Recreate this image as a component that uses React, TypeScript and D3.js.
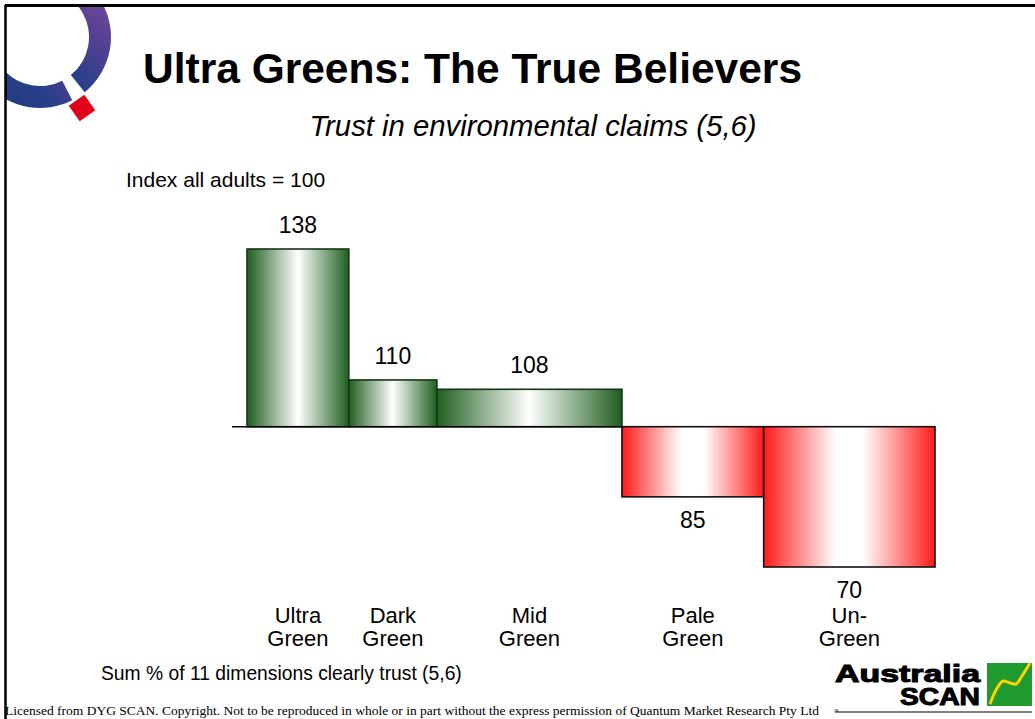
import React from "react";
import * as d3 from "d3";

// ---- data ----
const categories = ["Ultra Green", "Dark Green", "Mid Green", "Pale Green", "Un-Green"];
const labelLines = [["Ultra", "Green"], ["Dark", "Green"], ["Mid", "Green"], ["Pale", "Green"], ["Un-", "Green"]];
const indexValues = [138, 110, 108, 85, 70];
const populationShares = [14.8, 12.8, 26.9, 20.6, 24.9];
const baselineIndex = 100;

const title = "Ultra Greens: The True Believers";
const subtitle = "Trust in environmental claims (5,6)";
const indexNote = "Index all adults = 100";
const sumNote = "Sum % of 11 dimensions clearly trust (5,6)";
const footer =
  "Licensed from DYG SCAN. Copyright. Not to be reproduced in whole or in part without the express permission of Quantum Market Research Pty Ltd";

const W = 1035;
const H = 719;
const SANS = "'Liberation Sans', Arial, Helvetica, sans-serif";

export default function App() {
  const cum = d3.cumsum(populationShares);
  const total = cum[cum.length - 1];
  const x = d3.scaleLinear().domain([0, total]).range([247, 935]);
  const y = d3.scaleLinear().domain([70, 138]).range([567, 249]);
  const y0 = y(baselineIndex);

  const bars = categories.map((c, i) => {
    const start = i === 0 ? 0 : cum[i - 1];
    const end = cum[i];
    const v = indexValues[i];
    return {
      c,
      i,
      v,
      x0: x(start),
      x1: x(end),
      top: Math.min(y(v), y0),
      bottom: Math.max(y(v), y0),
      pos: v >= baselineIndex,
    };
  });

  const ringArc = d3.arc<any>().innerRadius(49).outerRadius(71);
  const deg = Math.PI / 180;
  const segA = ringArc({ startAngle: -100 * deg, endAngle: 141 * deg }) as string;
  const segB = ringArc({ startAngle: 153 * deg, endAngle: 300 * deg }) as string;

  const curve = d3.line().curve(d3.curveCatmullRom)([
    [990, 704],
    [996, 690],
    [1003, 681],
    [1010, 683],
    [1016, 684],
    [1022, 676],
    [1030, 663],
  ] as [number, number][]) as string;

  return (
    <svg
      width={W}
      height={H}
      viewBox={`0 0 ${W} ${H}`}
      style={{ position: "absolute", left: 0, top: 0, background: "#fff" }}
      fontFamily={SANS}
    >
      <defs>
        <linearGradient id="gGreen" x1="0" y1="0" x2="1" y2="0">
          <stop offset="0" stopColor="#1f5e1f" />
          <stop offset="0.5" stopColor="#ffffff" />
          <stop offset="1" stopColor="#1f5e1f" />
        </linearGradient>
        <linearGradient id="gRed" x1="0" y1="0" x2="1" y2="0">
          <stop offset="0" stopColor="#ff1a1a" />
          <stop offset="0.42" stopColor="#ffffff" />
          <stop offset="0.58" stopColor="#ffffff" />
          <stop offset="1" stopColor="#ff1a1a" />
        </linearGradient>
        <linearGradient id="gRing" x1="0" y1="1" x2="1" y2="0">
          <stop offset="0" stopColor="#133a7a" />
          <stop offset="0.45" stopColor="#2c3f8a" />
          <stop offset="0.7" stopColor="#5a4195" />
          <stop offset="0.9" stopColor="#7d4d94" />
          <stop offset="1" stopColor="#c0506e" />
        </linearGradient>
        <clipPath id="frameClip">
          <rect x={6} y={6} width={W} height={H} />
        </clipPath>
      </defs>

      {/* logo top-left */}
      <g clipPath="url(#frameClip)">
        <g transform="translate(40,37)">
          <path d={segA} fill="url(#gRing)" />
          <path d={segB} fill="url(#gRing)" />
        </g>
        <rect x={-9.5} y={-9.5} width={19} height={19} fill="#e2001a" transform="translate(82,108) rotate(55)" />
      </g>

      {/* frame */}
      <line x1={5} y1={5.5} x2={W} y2={5.5} stroke="#000" strokeWidth={3} />
      <line x1={5.5} y1={5} x2={5.5} y2={H} stroke="#000" strokeWidth={2.5} />

      {/* titles */}
      <text x={143} y={83} fontSize={42.5} fontWeight="bold" fill="#000">
        {title}
      </text>
      <text x={533} y={136} fontSize={29.3} fontStyle="italic" textAnchor="middle" fill="#000">
        {subtitle}
      </text>
      <text x={126} y={187} fontSize={21} fill="#000">
        {indexNote}
      </text>

      {/* bars */}
      {bars.map((b) => (
        <rect
          key={b.c}
          x={b.x0}
          y={b.top}
          width={b.x1 - b.x0}
          height={b.bottom - b.top}
          fill={b.pos ? "url(#gGreen)" : "url(#gRed)"}
          stroke={b.pos ? "#163516" : "#111"}
          strokeWidth={1.6}
        />
      ))}
      <line x1={232} x2={622} y1={y0} y2={y0} stroke="#000" strokeWidth={1.5} />

      {/* value labels */}
      {bars.map((b) => (
        <text
          key={"v" + b.c}
          x={(b.x0 + b.x1) / 2}
          y={b.pos ? b.top - 16 : b.bottom + 31}
          fontSize={23}
          textAnchor="middle"
          fill="#000"
        >
          {b.v}
        </text>
      ))}

      {/* category labels */}
      {bars.map((b) => (
        <text key={"c" + b.c} x={(b.x0 + b.x1) / 2} fontSize={22} textAnchor="middle" fill="#000">
          <tspan x={(b.x0 + b.x1) / 2} y={623}>
            {labelLines[b.i][0]}
          </tspan>
          <tspan x={(b.x0 + b.x1) / 2} y={646}>
            {labelLines[b.i][1]}
          </tspan>
        </text>
      ))}

      <text x={101} y={680} fontSize={19.3} fill="#000">
        {sumNote}
      </text>

      {/* footer */}
      <text x={5} y={715} fontSize={13.5} fontFamily="'Liberation Serif', 'Times New Roman', serif" fill="#000">
        {footer}
      </text>

      {/* AustraliaSCAN logo */}
      <g>
        <text
          x={835}
          y={682}
          fontSize={24}
          fontWeight="bold"
          fill="#000"
          stroke="#000"
          strokeWidth={1}
          textLength={145}
          lengthAdjust="spacingAndGlyphs"
        >
          Australia
        </text>
        <text
          x={900}
          y={705}
          fontSize={23}
          fontWeight="bold"
          fill="#000"
          stroke="#000"
          strokeWidth={1}
          textLength={80}
          lengthAdjust="spacingAndGlyphs"
        >
          SCAN
        </text>
        <rect x={987} y={663} width={45} height={43} fill="#1e9a2e" />
        <path d={curve} fill="none" stroke="#ffd400" strokeWidth={3} />
        <line x1={835} x2={1032} y1={712} y2={712} stroke="#000" strokeWidth={1.2} />
        <text x={834} y={712} fontSize={3} fill="#000">
          TM
        </text>
      </g>
    </svg>
  );
}
